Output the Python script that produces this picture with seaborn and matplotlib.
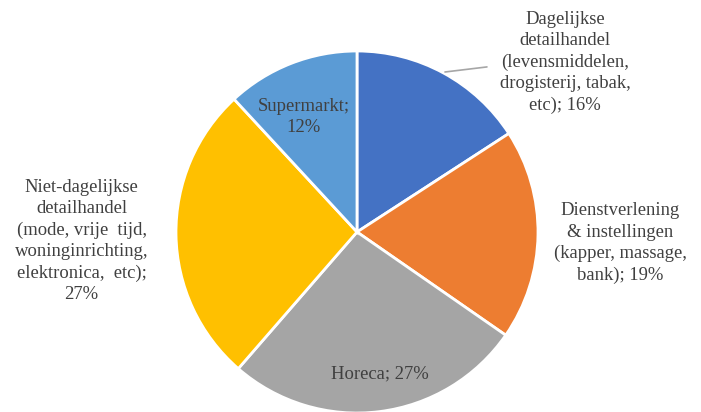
import matplotlib
matplotlib.use("Agg")
import matplotlib.pyplot as plt
import seaborn as sns

labels = [
    "Dagelijkse\ndetailhandel\n(levensmiddelen,\ndrogisterij, tabak,\netc); 16%",
    "Dienstverlening\n& instellingen\n(kapper, massage,\nbank); 19%",
    "Horeca; 27%",
    "Niet-dagelijkse\ndetailhandel\n(mode, vrije  tijd,\nwoninginrichting,\nelektronica,  etc);\n27%",
    "Supermarkt;\n12%",
]
shares = [16, 19, 27, 27, 12]
colors = ["#4472C4", "#ED7D31", "#A5A5A5", "#FFC000", "#5B9BD5"]

# label anchor points in pie units (radius = 1)
label_pos = [(1.149, 0.936), (1.456, -0.061), (0.127, -0.785), (-1.522, -0.050), (-0.296, 0.635)]

sns.set_theme(style="white")
plt.rcParams["font.family"] = ["Liberation Serif", "DejaVu Serif"]

W, H = 701, 412
cx, cy, r = 357, 232, 181
fig = plt.figure(figsize=(W / 100, H / 100), dpi=100)
ax = fig.add_axes([(cx - r) / W, (H - cy - r) / H, 2 * r / W, 2 * r / H])

ax.pie(shares, colors=colors, startangle=90, counterclock=False, radius=1,
       wedgeprops=dict(edgecolor="white", linewidth=2))
ax.set_xlim(-1, 1)
ax.set_ylim(-1, 1)
ax.set_aspect("equal")
ax.axis("off")

for lab, (x, y) in zip(labels, label_pos):
    ax.text(x, y, lab, ha="center", va="center", fontsize=13.4, color="#404040",
            linespacing=1.33, clip_on=False)

# leader line for the first label
ax.plot([0.486, 0.718], [0.884, 0.912], color="#A6A6A6", lw=1.2, clip_on=False)

fig.savefig("out.png", dpi=100)
